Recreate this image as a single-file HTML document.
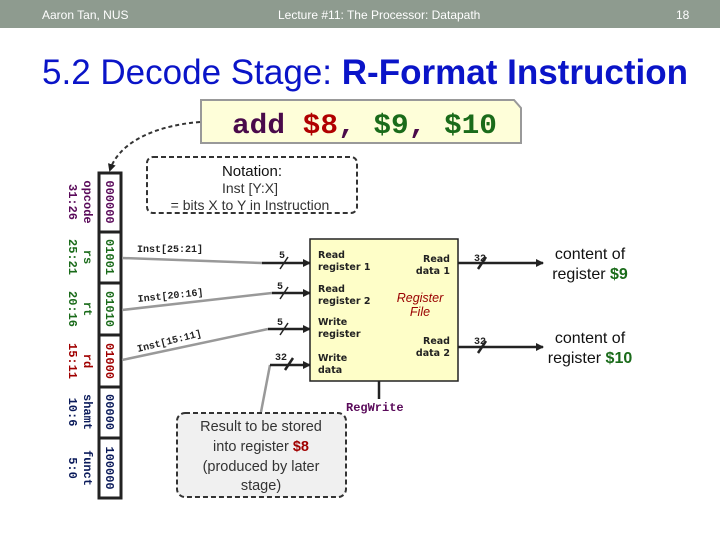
<!DOCTYPE html>
<html><head><meta charset="utf-8"><style>
body{margin:0;width:720px;height:540px;overflow:hidden;background:#fff}
</style></head><body>
<svg width="720" height="540" viewBox="0 0 720 540" xmlns="http://www.w3.org/2000/svg" font-family="Liberation Sans, sans-serif">
<defs>
<marker id="ah" markerWidth="8" markerHeight="8" refX="7" refY="4" orient="auto" markerUnits="userSpaceOnUse"><path d="M0,0 L8,4 L0,8 Z" fill="#222"/></marker>
<marker id="ah2" markerWidth="8" markerHeight="8" refX="6" refY="4" orient="auto" markerUnits="userSpaceOnUse"><path d="M0,0 L8,4 L0,8 Z" fill="#222"/></marker>
</defs>
<rect x="0" y="0" width="720" height="28" fill="#8e9b8f"/>
<text x="42" y="19" font-size="12" fill="#fff">Aaron Tan, NUS</text>
<text x="278" y="19" font-size="12" fill="#fff">Lecture #11: The Processor: Datapath</text>
<text x="676" y="19" font-size="12" fill="#fff">18</text>
<text x="42" y="84" font-size="35" fill="#0a14c8" textLength="646" lengthAdjust="spacingAndGlyphs">5.2 Decode Stage: <tspan font-weight="bold">R-Format Instruction</tspan></text>

<path d="M201,100 L514,100 L521,108 L521,143 L201,143 Z" fill="#fefed9" stroke="#999" stroke-width="2"/>
<text x="232" y="133" font-family="Liberation Mono, monospace" font-size="28" font-weight="bold" fill="#4a0a4a" textLength="265" lengthAdjust="spacingAndGlyphs">add <tspan fill="#b00000">$8</tspan>, <tspan fill="#1a6b1a">$9</tspan>, <tspan fill="#1a6b1a">$10</tspan></text>
<path d="M200,122 C150,126 118,145 110,170" fill="none" stroke="#333" stroke-width="2" stroke-dasharray="4,3" marker-end="url(#ah2)"/>

<rect x="147" y="157" width="210" height="56" rx="6" fill="#fff" stroke="#333" stroke-width="2" stroke-dasharray="5,3"/>
<text x="252" y="176" font-size="15" text-anchor="middle" fill="#111">Notation:</text>
<text x="250" y="193" font-size="14" text-anchor="middle" fill="#333">Inst [Y:X]</text>
<text x="250" y="210" font-size="14" text-anchor="middle" fill="#333">= bits X to Y in Instruction</text>

<rect x="99" y="173" width="22" height="325" fill="#fff" stroke="#222" stroke-width="3"/>
<g stroke="#222" stroke-width="3">
<line x1="99" y1="232" x2="121" y2="232"/><line x1="99" y1="283" x2="121" y2="283"/>
<line x1="99" y1="335" x2="121" y2="335"/><line x1="99" y1="387" x2="121" y2="387"/>
<line x1="99" y1="438" x2="121" y2="438"/></g>
<g font-family="Liberation Mono, monospace" font-weight="bold" font-size="12" text-anchor="middle">
<text transform="translate(106,202) rotate(90)" fill="#5a0a5a">000000</text>
<text transform="translate(106,257) rotate(90)" fill="#1a6b1a">01001</text>
<text transform="translate(106,309) rotate(90)" fill="#1a6b1a">01010</text>
<text transform="translate(106,361) rotate(90)" fill="#a00000">01000</text>
<text transform="translate(106,412) rotate(90)" fill="#0a1a5a">00000</text>
<text transform="translate(106,468) rotate(90)" fill="#0a1a5a">100000</text>
<text transform="translate(84,202) rotate(90)" fill="#5a0a5a">opcode</text>
<text transform="translate(69,202) rotate(90)" fill="#5a0a5a">31:26</text>
<text transform="translate(84,257) rotate(90)" fill="#1a6b1a">rs</text>
<text transform="translate(69,257) rotate(90)" fill="#1a6b1a">25:21</text>
<text transform="translate(84,309) rotate(90)" fill="#1a6b1a">rt</text>
<text transform="translate(69,309) rotate(90)" fill="#1a6b1a">20:16</text>
<text transform="translate(84,361) rotate(90)" fill="#a00000">rd</text>
<text transform="translate(69,361) rotate(90)" fill="#a00000">15:11</text>
<text transform="translate(84,412) rotate(90)" fill="#0a1a5a">shamt</text>
<text transform="translate(69,412) rotate(90)" fill="#0a1a5a">10:6</text>
<text transform="translate(84,468) rotate(90)" fill="#0a1a5a">funct</text>
<text transform="translate(69,468) rotate(90)" fill="#0a1a5a">5:0</text>
</g>

<g stroke="#999" stroke-width="2.5" fill="none">
<line x1="122" y1="258" x2="262" y2="263"/>
<line x1="122" y1="310" x2="272" y2="293"/>
<line x1="122" y1="360" x2="268" y2="329"/>
<line x1="270" y1="365" x2="261" y2="412"/>
</g>
<g stroke="#222" stroke-width="2.5" marker-end="url(#ah)">
<line x1="262" y1="263" x2="310" y2="263"/>
<line x1="272" y1="293" x2="310" y2="293"/>
<line x1="268" y1="329" x2="310" y2="329"/>
<line x1="270" y1="365" x2="310" y2="365"/>
<line x1="458" y1="263" x2="543" y2="263"/>
<line x1="458" y1="347" x2="543" y2="347"/>
</g>
<g stroke="#222" stroke-width="1.5">
<line x1="280" y1="269" x2="288" y2="257"/><line x1="280" y1="299" x2="288" y2="287"/>
<line x1="280" y1="335" x2="288" y2="323"/>
</g>
<g stroke="#222" stroke-width="2.5">
<line x1="285" y1="370" x2="293" y2="358"/>
<line x1="478" y1="269" x2="486" y2="257"/><line x1="478" y1="353" x2="486" y2="341"/>
</g>
<g font-family="Liberation Mono, monospace" font-weight="bold" font-size="10" fill="#222">
<text x="137" y="252">Inst[25:21]</text>
<text x="138" y="302" transform="rotate(-6 138 302)">Inst[20:16]</text>
<text x="138" y="352" transform="rotate(-14 138 352)">Inst[15:11]</text>
<text x="279" y="258">5</text><text x="277" y="289">5</text><text x="277" y="325">5</text>
<text x="275" y="360">32</text><text x="474" y="261">32</text><text x="474" y="344">32</text>
</g>

<rect x="310" y="239" width="148" height="142" fill="#fefec8" stroke="#222" stroke-width="1.5"/>
<line x1="379" y1="381" x2="379" y2="399" stroke="#222" stroke-width="2.5"/>
<g font-family="DejaVu Sans, sans-serif" font-weight="bold" font-size="9.5" fill="#222">
<text x="318" y="258">Read</text><text x="318" y="270">register 1</text>
<text x="318" y="292">Read</text><text x="318" y="304">register 2</text>
<text x="318" y="325">Write</text><text x="318" y="337">register</text>
<text x="318" y="361">Write</text><text x="318" y="373">data</text>
<text x="450" y="262" text-anchor="end">Read</text><text x="450" y="274" text-anchor="end">data 1</text>
<text x="450" y="344" text-anchor="end">Read</text><text x="450" y="356" text-anchor="end">data 2</text>
</g>
<text x="420" y="302" font-size="12.5" font-style="italic" text-anchor="middle" fill="#900">Register</text>
<text x="420" y="316" font-size="12.5" font-style="italic" text-anchor="middle" fill="#900">File</text>
<text x="346" y="411" font-family="Liberation Mono, monospace" font-weight="bold" font-size="12" fill="#5a0a5a">RegWrite</text>

<text x="590" y="259" font-size="16" text-anchor="middle" fill="#111">content of</text>
<text x="590" y="279" font-size="16" text-anchor="middle" fill="#111">register <tspan fill="#1a6b1a" font-weight="bold">$9</tspan></text>
<text x="590" y="343" font-size="16" text-anchor="middle" fill="#111">content of</text>
<text x="590" y="363" font-size="16" text-anchor="middle" fill="#111">register <tspan fill="#1a6b1a" font-weight="bold">$10</tspan></text>

<rect x="177" y="413" width="169" height="84" rx="8" fill="#f0f0f0" stroke="#333" stroke-width="2" stroke-dasharray="5,3"/>
<g font-size="14.5" text-anchor="middle" fill="#333">
<text x="261" y="431">Result to be stored</text>
<text x="261" y="451">into register <tspan fill="#a00000" font-weight="bold">$8</tspan></text>
<text x="261" y="471">(produced by later</text>
<text x="261" y="490">stage)</text>
</g>
</svg>
</body></html>
